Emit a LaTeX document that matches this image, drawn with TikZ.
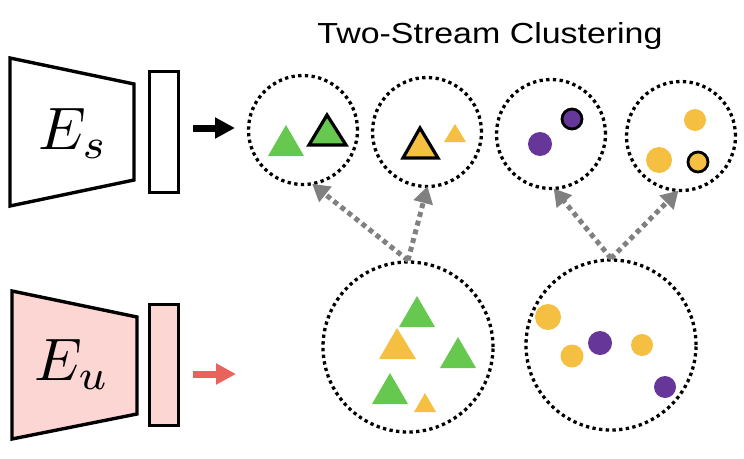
\documentclass[tikz,border=0pt]{standalone}
\usepackage{fontspec}
\newfontfamily\titlefont{Liberation Sans}
\usetikzlibrary{arrows.meta}
\definecolor{tgreen}{HTML}{66C84F}
\definecolor{tyellow}{HTML}{F5BF42}
\definecolor{tpurple}{HTML}{673699}
\definecolor{tpink}{HTML}{FCD6D3}
\definecolor{tred}{HTML}{E9625B}
\definecolor{tgray}{HTML}{808080}
\tikzset{
  cluster/.style={circle, draw=black, line width=3.3pt, dash pattern=on 3.3pt off 3.4pt, inner sep=0pt, minimum size=#1},
  encoder/.style={draw=black, line width=3.4pt, line join=miter},
  featbox/.style={draw=black, line width=3.4pt, minimum width=29pt, minimum height=121pt, inner sep=0pt},
  splitarrow/.style={draw=tgray, line width=5pt, dash pattern=on 5pt off 4pt, -{Triangle[length=17pt,width=19pt]}, shorten >=-2pt},
  outl/.style={draw=black, line width=3.2pt, line join=miter},
  dotc/.style={circle, inner sep=0pt, minimum size=#1},
  enclabel/.style={scale=6, inner sep=0pt},
  flowarrow/.style={line width=7pt, -{Triangle[length=20pt,width=20pt]}},
}
\begin{document}
\begin{tikzpicture}[x=1pt,y=-1pt]
\useasboundingbox (0,0) rectangle (744,458);
% title
\node[font=\titlefont\fontsize{29}{32}\selectfont, anchor=base, xscale=1.17] (title) at (490,43) {Two-Stream Clustering};
% encoders
\draw[encoder, fill=white] (10,58) -- (134,84) -- (134,180) -- (10,206) -- cycle;
\node[enclabel] (Es) at (73,133) {$E_s$};
\node[featbox, fill=white] (fs) at (164,132) {};
\draw[encoder, fill=tpink] (12,291) -- (137,317) -- (137,414) -- (12,439) -- cycle;
\node[enclabel] (Eu) at (72,364) {$E_u$};
\node[featbox, fill=tpink] (fu) at (164,365) {};
\coordinate (as1) at (193,128);
\coordinate (ae1) at (235,128);
\coordinate (as2) at (193,374);
\coordinate (ae2) at (236,374);
\draw[flowarrow] (as1) -- (ae1);
\draw[flowarrow, tred] (as2) -- (ae2);
% clusters
\node[cluster=109pt] (c1) at (303,130) {};
\node[cluster=109pt] (c2) at (427,132) {};
\node[cluster=109pt] (c3) at (551,134) {};
\node[cluster=109pt] (c4) at (681,136) {};
\node[cluster=170pt] (ca) at (408,347) {};
\node[cluster=170pt] (cb) at (611,345) {};
% split arrows
\draw[splitarrow] (ca.north) -- (c1.-79);
\draw[splitarrow] (ca.north) -- (c2.-90);
\draw[splitarrow] (cb.north) -- (c3.-86);
\draw[splitarrow] (cb.north) -- (c4.-94);
% cluster 1
\fill[tgreen] (268,156) -- (286,125) -- (304,156) -- cycle;
\draw[outl, fill=tgreen] (309,145) -- (327,115) -- (346,145) -- cycle;
% cluster 2
\draw[outl, fill=tyellow] (403,158) -- (420,128) -- (438,158) -- cycle;
\fill[tyellow] (444,142) -- (455,124) -- (466,142) -- cycle;
% cluster 3
\node[dotc=24pt, fill=tpurple] (p1) at (540,144) {};
\node[dotc=20pt, fill=tpurple, draw=black, line width=2.8pt] (p2) at (572,119) {};
% cluster 4
\node[dotc=22pt, fill=tyellow] (y1) at (695,120) {};
\node[dotc=26pt, fill=tyellow] (y2) at (659,160) {};
\node[dotc=20pt, fill=tyellow, draw=black, line width=2.8pt] (y3) at (698,162) {};
% cluster A
\fill[tgreen] (399,327) -- (417,296) -- (435,327) -- cycle;
\fill[tyellow] (379,359) -- (397,328) -- (416,359) -- cycle;
\fill[tgreen] (440,368) -- (458,337) -- (476,368) -- cycle;
\fill[tgreen] (372,404) -- (390,373) -- (408,404) -- cycle;
\fill[tyellow] (414,412) -- (425,393) -- (436,412) -- cycle;
% cluster B
\node[dotc=26pt, fill=tyellow] (b1) at (548,317) {};
\node[dotc=23pt, fill=tyellow] (b2) at (572,356) {};
\node[dotc=24pt, fill=tpurple] (b3) at (600,343) {};
\node[dotc=22pt, fill=tyellow] (b4) at (642,345) {};
\node[dotc=22pt, fill=tpurple] (b5) at (665,387) {};
\end{tikzpicture}
\end{document}
